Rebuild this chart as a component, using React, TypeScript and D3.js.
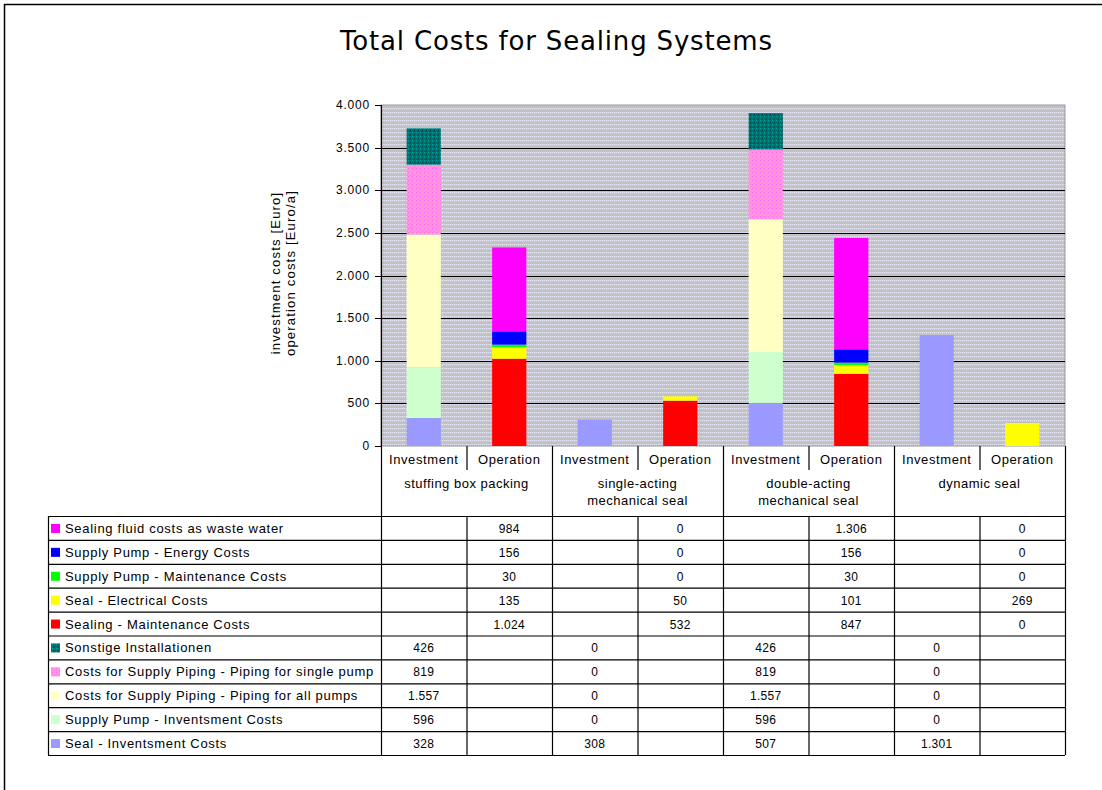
import React from "react";
import * as d3 from "d3";

// Cost groups shown on the category axis (two bars each: investment / operation)
const categories = [
  "stuffing box packing",
  "single-acting mechanical seal",
  "double-acting mechanical seal",
  "dynamic seal",
];
const categoryLines = [
  ["stuffing box packing"],
  ["single-acting", "mechanical seal"],
  ["double-acting", "mechanical seal"],
  ["dynamic seal"],
];
const barKinds = ["Investment", "Operation"];

// Investment series, stacked bottom to top [Euro]
const sealInvestment = [328, 308, 507, 1301];
const supplyPumpInvestment = [596, 0, 596, 0];
const pipingAllPumps = [1557, 0, 1557, 0];
const pipingSinglePump = [819, 0, 819, 0];
const sonstigeInstallationen = [426, 0, 426, 0];

// Operation series, stacked bottom to top [Euro/a]
const sealingMaintenance = [1024, 532, 847, 0];
const sealElectrical = [135, 50, 101, 269];
const supplyPumpMaintenance = [30, 0, 30, 0];
const supplyPumpEnergy = [156, 0, 156, 0];
const sealingFluidWaste = [984, 0, 1306, 0];

const yTicks = [0, 500, 1000, 1500, 2000, 2500, 3000, 3500, 4000];

type Series = { name: string; kind: "Investment" | "Operation"; values: number[]; fill: string };

// Rows of the data table, top to bottom (top of the stack first)
const series: Series[] = [
  { name: "Sealing fluid costs as waste water", kind: "Operation", values: sealingFluidWaste, fill: "#ff00ff" },
  { name: "Supply Pump - Energy Costs", kind: "Operation", values: supplyPumpEnergy, fill: "#0000ff" },
  { name: "Supply Pump - Maintenance Costs", kind: "Operation", values: supplyPumpMaintenance, fill: "#00ff00" },
  { name: "Seal - Electrical Costs", kind: "Operation", values: sealElectrical, fill: "#ffff00" },
  { name: "Sealing - Maintenance Costs", kind: "Operation", values: sealingMaintenance, fill: "#ff0000" },
  { name: "Sonstige Installationen", kind: "Investment", values: sonstigeInstallationen, fill: "url(#patTeal)" },
  { name: "Costs for Supply Piping - Piping for single pump", kind: "Investment", values: pipingSinglePump, fill: "url(#patPink)" },
  { name: "Costs for Supply Piping - Piping for all pumps", kind: "Investment", values: pipingAllPumps, fill: "url(#patYellow)" },
  { name: "Supply Pump - Inventsment Costs", kind: "Investment", values: supplyPumpInvestment, fill: "url(#patGreen)" },
  { name: "Seal - Inventsment Costs", kind: "Investment", values: sealInvestment, fill: "url(#patBlue)" },
];

const fmt = (v: number) => d3.format(",")(v).replace(/,/g, ".");

const W = 1102;
const H = 790;
const plotLeft = 381;
const plotRight = 1065;
const plotTop = 105;
const plotBottom = 446;
const headerBottom = 516;
const tableLeft = 48;
const rowH = 23.9;

const FONT = "'Liberation Sans', Arial, sans-serif";

export default function App() {
  const y = d3.scaleLinear().domain([0, 4000]).range([plotBottom, plotTop]);
  const x0 = d3.scaleBand<string>().domain(categories).range([plotLeft, plotRight]).padding(0);
  const x1 = d3.scaleBand<string>().domain(barKinds).range([0, x0.bandwidth()]).padding(0);
  const slotW = x1.bandwidth();
  const barW = slotW * 0.4;

  // Build stacks per bar kind (bottom-to-top = reverse of table order)
  const bars: { key: string; x: number; y0: number; y1: number; fill: string }[] = [];
  barKinds.forEach((kind) => {
    const stackSeries = series.filter((s) => s.kind === kind).slice().reverse();
    const rows = categories.map((c, ci) => {
      const r: Record<string, number> = {};
      stackSeries.forEach((s) => (r[s.name] = s.values[ci]));
      return r;
    });
    const stacked = d3.stack<Record<string, number>>().keys(stackSeries.map((s) => s.name))(rows);
    stacked.forEach((layer, li) => {
      layer.forEach((seg, ci) => {
        if (seg[1] - seg[0] <= 0) return;
        const cx = (x0(categories[ci]) as number) + (x1(kind) as number) + slotW / 2;
        bars.push({
          key: `${kind}-${li}-${ci}`,
          x: cx - barW / 2,
          y0: y(seg[0]),
          y1: y(seg[1]),
          fill: stackSeries[li].fill,
        });
      });
    });
  });

  const tableBottom = headerBottom + rowH * series.length;
  const colEdges: number[] = [];
  categories.forEach((c) => {
    barKinds.forEach((k) => colEdges.push((x0(c) as number) + (x1(k) as number)));
  });

  return (
    <svg
      width={W}
      height={H}
      style={{ position: "absolute", left: 0, top: 0, background: "#fff" }}
      fontFamily={FONT}
    >
      <defs>
        <pattern id="patBg" width="4" height="4" patternUnits="userSpaceOnUse">
          <rect width="4" height="4" fill="#bebebe" />
          <rect x="0" y="0" width="1" height="1" fill="#dcdcf2" />
          <rect x="1" y="0" width="1" height="1" fill="#ccccE0" />
          <rect x="2" y="0" width="1" height="1" fill="#e2e2f0" />
          <rect x="3" y="0" width="1" height="1" fill="#d0d0de" />
          <rect x="0" y="1" width="1" height="1" fill="#cacadc" />
          <rect x="2" y="1" width="1" height="1" fill="#d6d6ea" />
          <rect x="1" y="2" width="1" height="1" fill="#c8c8d0" />
          <rect x="3" y="3" width="1" height="1" fill="#cacad4" />
        </pattern>
        <pattern id="patTeal" width="4" height="4" patternUnits="userSpaceOnUse">
          <rect width="4" height="4" fill="#007373" />
          <rect x="0" y="0" width="1" height="1" fill="#00a0a0" />
          <rect x="2" y="2" width="1" height="1" fill="#004848" />
          <rect x="1" y="3" width="2" height="1" fill="#005a5a" />
        </pattern>
        <pattern id="patPink" width="4" height="4" patternUnits="userSpaceOnUse">
          <rect width="4" height="4" fill="#ff99cc" />
          <rect x="0" y="0" width="1" height="1" fill="#ff66ff" />
          <rect x="2" y="2" width="1" height="1" fill="#ff80ee" />
        </pattern>
        <pattern id="patYellow" width="4" height="4" patternUnits="userSpaceOnUse">
          <rect width="4" height="4" fill="#ffffc4" />
          <rect x="1" y="1" width="1" height="1" fill="#ffffff" />
          <rect x="3" y="3" width="1" height="1" fill="#ffffee" />
        </pattern>
        <pattern id="patGreen" width="4" height="4" patternUnits="userSpaceOnUse">
          <rect width="4" height="4" fill="#ccffcc" />
          <rect x="1" y="0" width="1" height="1" fill="#ccffff" />
          <rect x="3" y="2" width="1" height="1" fill="#e6ffe6" />
        </pattern>
        <pattern id="patBlue" width="4" height="4" patternUnits="userSpaceOnUse">
          <rect width="4" height="4" fill="#9999ff" />
          <rect x="1" y="1" width="1" height="1" fill="#a3a3ff" />
        </pattern>
      </defs>

      {/* chart frame */}
      <rect x={4.5} y={4.5} width={W + 20} height={H + 20} fill="#fff" stroke="#000" strokeWidth={1.5} />

      {/* title */}
      <text
        x={556}
        y={50}
        textAnchor="middle"
        fontSize={26}
        textLength={432}
        lengthAdjust="spacing"
        fontFamily="'DejaVu Sans', Verdana, sans-serif"
      >
        Total Costs for Sealing Systems
      </text>

      {/* plot area */}
      <rect x={plotLeft} y={plotTop} width={plotRight - plotLeft} height={plotBottom - plotTop} fill="url(#patBg)" stroke="#999" strokeWidth={1} />

      {/* gridlines */}
      {yTicks.slice(1, -1).map((t) => (
        <line key={t} x1={plotLeft} x2={plotRight} y1={Math.round(y(t)) + 0.5} y2={Math.round(y(t)) + 0.5} stroke="#000" strokeWidth={1} />
      ))}

      {/* bars */}
      {bars.map((b) => (
        <rect key={b.key} x={b.x} y={b.y1} width={barW} height={b.y0 - b.y1} fill={b.fill} />
      ))}

      {/* y axis */}
      <line x1={plotLeft + 0.5} x2={plotLeft + 0.5} y1={plotTop} y2={tableBottom} stroke="#000" strokeWidth={1.2} />
      {yTicks.map((t) => (
        <g key={t}>
          <line x1={plotLeft - 6} x2={plotLeft} y1={Math.round(y(t)) + 0.5} y2={Math.round(y(t)) + 0.5} stroke="#000" />
          <text x={plotLeft - 11} y={y(t) + 4} textAnchor="end" fontSize={12} letterSpacing={0.8}>
            {fmt(t)}
          </text>
        </g>
      ))}

      {/* y axis title */}
      <g transform={`translate(280, 273) rotate(-90)`}>
        <text x={0} y={0} textAnchor="middle" fontSize={13} letterSpacing={1.2}>investment costs [Euro]</text>
        <text x={0} y={15} textAnchor="middle" fontSize={13} letterSpacing={1.2}>operation costs [Euro/a]</text>
      </g>

      {/* category header */}
      {categories.map((c, ci) => {
        const cx0 = x0(c) as number;
        return (
          <g key={c}>
            {barKinds.map((k) => (
              <text key={k} x={cx0 + (x1(k) as number) + slotW / 2} y={464} textAnchor="middle" fontSize={13} letterSpacing={0.6}>
                {k}
              </text>
            ))}
            <line x1={cx0 + slotW + 0.5} x2={cx0 + slotW + 0.5} y1={plotBottom} y2={470} stroke="#000" strokeWidth={1.2} />
            {categoryLines[ci].map((ln, li) => (
              <text key={li} x={cx0 + x0.bandwidth() / 2} y={488 + li * 17} textAnchor="middle" fontSize={13} letterSpacing={0.5}>
                {ln}
              </text>
            ))}
            <line x1={cx0 + x0.bandwidth() + 0.5} x2={cx0 + x0.bandwidth() + 0.5} y1={plotBottom} y2={tableBottom} stroke="#000" strokeWidth={1.2} />
          </g>
        );
      })}

      {/* data table */}
      <line x1={tableLeft} x2={plotRight} y1={headerBottom + 0.5} y2={headerBottom + 0.5} stroke="#000" strokeWidth={1.2} />
      <line x1={tableLeft + 0.5} x2={tableLeft + 0.5} y1={headerBottom} y2={tableBottom} stroke="#000" strokeWidth={1.2} />
      {colEdges.map((xe, i) =>
        i % 2 === 1 ? (
          <line key={i} x1={xe + 0.5} x2={xe + 0.5} y1={headerBottom} y2={tableBottom} stroke="#000" strokeWidth={1.2} />
        ) : null
      )}
      {series.map((s, ri) => {
        const top = headerBottom + ri * rowH;
        const mid = top + rowH / 2;
        return (
          <g key={s.name}>
            <line x1={tableLeft} x2={plotRight} y1={top + rowH + 0.5} y2={top + rowH + 0.5} stroke="#000" strokeWidth={1.2} />
            <rect x={51} y={mid - 4} width={9} height={9} fill={s.fill} />
            <text x={65} y={mid + 5} fontSize={13} letterSpacing={0.7}>
              {s.name}
            </text>
            {categories.map((c, ci) => {
              const cx = (x0(c) as number) + (x1(s.kind) as number) + slotW / 2;
              return (
                <text key={c} x={cx} y={mid + 5} textAnchor="middle" fontSize={12} letterSpacing={0.3}>
                  {fmt(s.values[ci])}
                </text>
              );
            })}
          </g>
        );
      })}
    </svg>
  );
}
